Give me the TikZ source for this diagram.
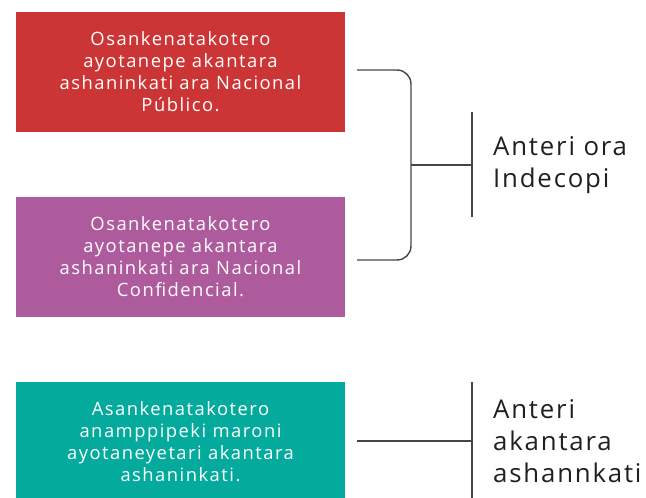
\documentclass[tikz,border=0pt]{standalone}
\usepackage{fontspec}
\setmainfont{Open Sans}
\newfontfamily\boxfont[LetterSpace=8]{Open Sans}
\newfontfamily\labelfont[LetterSpace=7]{Open Sans}
\usepackage{tikz}
\definecolor{redbox}{RGB}{204,53,53}
\definecolor{purplebox}{RGB}{174,91,158}
\definecolor{tealbox}{RGB}{4,171,157}
\definecolor{bracegray}{RGB}{70,70,70}
\definecolor{labelgray}{RGB}{35,31,32}

\begin{document}
\begin{tikzpicture}[x=1pt,y=-1pt,
  box/.style={minimum width=329pt,minimum height=120pt,inner sep=0pt,align=center,
    text=white,font=\boxfont\fontsize{18.4}{22}\selectfont},
  brace/.style={draw=bracegray,line width=1.4pt},
  label/.style={anchor=west,align=left,text=labelgray,inner sep=0pt,
    font=\labelfont\fontsize{25.8}{32}\selectfont}]
\newcommand{\boxx}{180.5}
\newcommand{\bx}{357}
\newcommand{\by}{411}
\newcommand{\tick}{472}

\useasboundingbox (0,0) rectangle (646,498);
\begin{scope}
\clip (0,0) rectangle (646,498);
\node[box,fill=redbox] (pub) at (\boxx,72) {Osankenatakotero\\ayotanepe akantara\\ashaninkati ara Nacional\\Público.};
\node[box,fill=purplebox] (conf) at (\boxx,257) {Osankenatakotero\\ayotanepe akantara\\ashaninkati ara Nacional\\Confidencial.};
\node[box,fill=tealbox] (asan) at (\boxx,442) {Asankenatakotero\\anamppipeki maroni\\ayotaneyetari akantara\\ashaninkati.};
\end{scope}

% bracket joining the first two boxes
\coordinate (pubend) at (\bx,70);
\coordinate (confend) at (\bx,260);
\coordinate (mid) at (\by,165);
\coordinate (midend) at (\tick,165);
\draw[brace,rounded corners=14pt] (pubend) -- (\by,70) -- (\by,260) -- (confend);
\draw[brace] (mid) -- (midend);
\draw[brace] (\tick,112) -- (\tick,217);
\node[label] (indecopi) at (493,165) {Anteri ora\\Indecopi};

% single line for the third box
\coordinate (asanend) at (\bx,441);
\coordinate (asantick) at (\tick,441);
\draw[brace] (asanend) -- (asantick);
\draw[brace] (\tick,382) -- (\tick,498);
\node[label] (akantara) at (493,441) {Anteri\\akantara\\ashannkati};
\end{tikzpicture}
\end{document}
